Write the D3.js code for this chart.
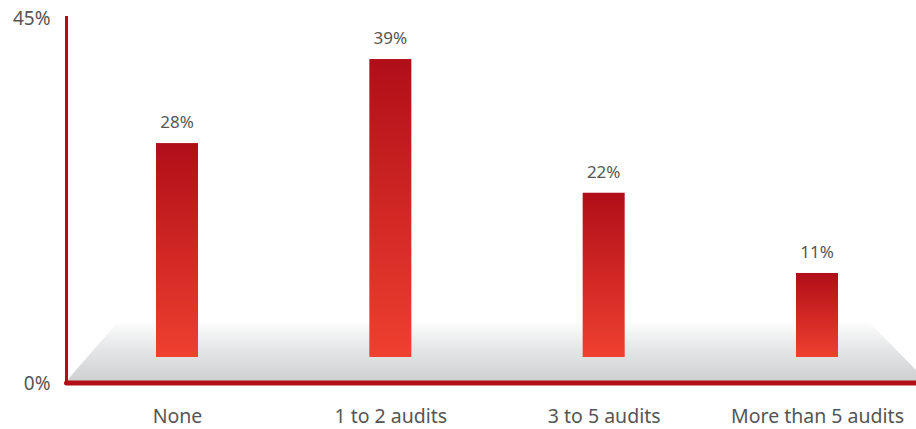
<!DOCTYPE html>
<html>
<head>
<meta charset="utf-8">
<script src="https://cdn.jsdelivr.net/npm/d3@7"></script>
<style>
  html, body { margin: 0; padding: 0; background: #ffffff; }
  svg { display: block; }
  text { font-family: "Noto Sans", "Open Sans", sans-serif; fill: #555555; }
</style>
</head>
<body>
<svg id="chart" width="916" height="429"></svg>
<script>
// ---- data ----
const categories = ["None", "1 to 2 audits", "3 to 5 audits", "More than 5 audits"];
const values = [28, 39, 21.5, 11];
const valueLabels = ["28%", "39%", "22%", "11%"];
const axisTicks = [0, 45];
const axisTickLabels = ["0%", "45%"];

const W = 916, H = 429;
const svg = d3.select("#chart");
const defs = svg.append("defs");

// gradients
const barGrad = defs.append("linearGradient").attr("id", "barGrad")
  .attr("x1", 0).attr("y1", 0).attr("x2", 0).attr("y2", 1);
barGrad.append("stop").attr("offset", "0%").attr("stop-color", "#b00e18");
barGrad.append("stop").attr("offset", "100%").attr("stop-color", "#ef4030");

const floorGrad = defs.append("linearGradient").attr("id", "floorGrad")
  .attr("x1", 0).attr("y1", 0).attr("x2", 0).attr("y2", 1);
floorGrad.append("stop").attr("offset", "0%").attr("stop-color", "#ffffff");
floorGrad.append("stop").attr("offset", "45%").attr("stop-color", "#e6e7e8");
floorGrad.append("stop").attr("offset", "100%").attr("stop-color", "#cfd0d2");

// scales
const axisX = 66.5, axisY = 383;
const x = d3.scalePoint().domain(categories).range([177, 817]);
const yAxisScale = d3.scaleLinear().domain([0, 45]).range([axisY, 18]);
const barBase = 357;
const yBar = d3.scaleLinear().domain([0, 45]).range([barBase, barBase - 45 * 7.64]);
const barW = 42;

// floor (decorative perspective plane)
const floorTop = 320, floorInset = 53;
svg.append("path")
  .attr("d", `M${axisX},${axisY - 2} L${axisX + floorInset},${floorTop} L${W - 49},${floorTop} L${W},${floorTop + 50} L${W},${axisY - 2} Z`)
  .attr("fill", "url(#floorGrad)");

// bars
svg.append("g").selectAll("rect")
  .data(values)
  .join("rect")
  .attr("x", (d, i) => x(categories[i]) - barW / 2)
  .attr("y", d => yBar(d))
  .attr("width", barW)
  .attr("height", d => barBase - yBar(d))
  .attr("fill", "url(#barGrad)");

// value labels
svg.append("g").selectAll("text")
  .data(values)
  .join("text")
  .attr("x", (d, i) => x(categories[i]))
  .attr("y", d => yBar(d) - 15)
  .attr("text-anchor", "middle")
  .style("font-size", "17px")
  .text((d, i) => valueLabels[i]);

// axis lines
svg.append("line")
  .attr("x1", axisX).attr("x2", axisX)
  .attr("y1", yAxisScale(45) - 2).attr("y2", axisY)
  .attr("stroke", "#b20e17").attr("stroke-width", 3);
svg.append("line")
  .attr("x1", axisX).attr("x2", W + 5)
  .attr("y1", axisY).attr("y2", axisY)
  .attr("stroke", "#b20e17").attr("stroke-width", 5)
  .attr("stroke-linecap", "round");

// y axis labels
const yAxis = d3.axisLeft(yAxisScale)
  .tickValues(axisTicks)
  .tickSize(0)
  .tickPadding(16)
  .tickFormat((d, i) => axisTickLabels[i]);
const gy = svg.append("g").attr("transform", `translate(${axisX},0)`).call(yAxis);
gy.select(".domain").remove();
gy.selectAll("text").style("font-size", "19px").attr("fill", "#555555").style("font-family", null);

// x axis labels
const xAxis = d3.axisBottom(x).tickSize(0).tickPadding(26);
const gx = svg.append("g").attr("transform", `translate(0,${axisY})`).call(xAxis);
gx.select(".domain").remove();
gx.selectAll("text").style("font-size", "19.5px").attr("fill", "#555555").style("font-family", null);
</script>
</body>
</html>
